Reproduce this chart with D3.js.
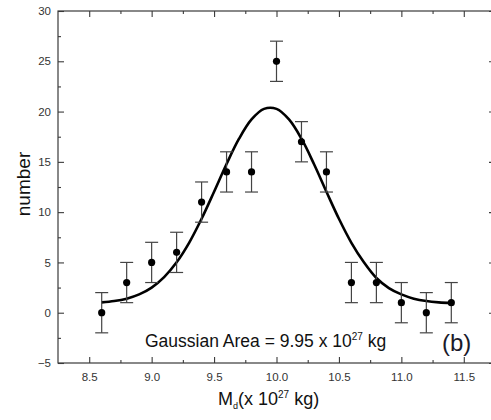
<!DOCTYPE html>
<html>
<head>
<meta charset="utf-8">
<script src="https://cdn.jsdelivr.net/npm/d3@7"></script>
<style>
html,body{margin:0;padding:0;background:#fff;}
svg{display:block;font-family:Arial,"Liberation Sans",sans-serif;}
</style>
</head>
<body>
<svg id="chart" width="491" height="420"></svg>
<script>
// Data points (histogram counts) with symmetric error bars
const massBins = [8.6, 8.8, 9.0, 9.2, 9.4, 9.6, 9.8, 10.0, 10.2, 10.4, 10.6, 10.8, 11.0, 11.2, 11.4];
const counts   = [0, 3, 5, 6, 11, 14, 14, 25, 17, 14, 3, 3, 1, 0, 1];
const errors   = [2, 2, 2, 2, 2, 2, 2, 2, 2, 2, 2, 2, 2, 2, 2];

// Gaussian fit curve
const fitX = [8.6, 8.7, 8.8, 8.9, 9.0, 9.1, 9.2, 9.3, 9.4, 9.5, 9.6, 9.7, 9.8, 9.9, 10.0, 10.1, 10.2, 10.3, 10.4, 10.5, 10.6, 10.7, 10.8, 10.9, 11.0, 11.1, 11.2, 11.3, 11.4];
const fitY = [1.03, 1.16, 1.40, 1.82, 2.50, 3.54, 5.01, 6.95, 9.34, 12.03, 14.79, 17.30, 19.22, 20.27, 20.27, 19.22, 17.30, 14.79, 12.03, 9.34, 6.95, 5.01, 3.45, 2.45, 1.82, 1.40, 1.16, 1.03, 0.96];

// Axes ticks
const xMajor = [8.5, 9.0, 9.5, 10.0, 10.5, 11.0, 11.5];
const xMinor = [8.75, 9.25, 9.75, 10.25, 10.75, 11.25];
const yMajor = [-5, 0, 5, 10, 15, 20, 25, 30];
const yMinor = [-2.5, 2.5, 7.5, 12.5, 17.5, 22.5, 27.5];

const fitLabel = "Gaussian Area = 9.95 x 10";
const panelLabel = "(b)";

const svg = d3.select("#chart");
const L = 58, R = 495, T = 11, B = 363;
const x = d3.scaleLinear().domain([8.25, 11.75]).range([L, R]);
const y = d3.scaleLinear().domain([-5, 30]).range([B, T]);

const axisColor = "#3a3a3a";
const labelColor = "#333";

function styleAxis(g) {
  g.select(".domain").remove();
  g.selectAll(".tick line").attr("stroke", axisColor).attr("stroke-width", 1.1);
  g.selectAll(".tick text").attr("fill", labelColor).style("font-size", "11.5px").style("font-family", "Arial, 'Liberation Sans', sans-serif");
}

// bottom
svg.append("g").attr("transform", `translate(0,${B})`)
  .call(d3.axisBottom(x).tickValues(xMajor).tickFormat(d3.format(".1f")).tickSize(-6).tickPadding(10))
  .call(styleAxis);
svg.append("g").attr("transform", `translate(0,${B})`)
  .call(d3.axisBottom(x).tickValues(xMinor).tickFormat("").tickSize(-3))
  .call(styleAxis);
// top
svg.append("g").attr("transform", `translate(0,${T})`)
  .call(d3.axisTop(x).tickValues(xMajor).tickFormat("").tickSize(-6))
  .call(styleAxis);
svg.append("g").attr("transform", `translate(0,${T})`)
  .call(d3.axisTop(x).tickValues(xMinor).tickFormat("").tickSize(-3))
  .call(styleAxis);
// left
svg.append("g").attr("transform", `translate(${L},0)`)
  .call(d3.axisLeft(y).tickValues(yMajor).tickFormat(d3.format("d")).tickSize(-6).tickPadding(7))
  .call(styleAxis);
svg.append("g").attr("transform", `translate(${L},0)`)
  .call(d3.axisLeft(y).tickValues(yMinor).tickFormat("").tickSize(-3))
  .call(styleAxis);
// right
svg.append("g").attr("transform", `translate(${R},0)`)
  .call(d3.axisRight(y).tickValues(yMajor).tickFormat("").tickSize(-6))
  .call(styleAxis);
svg.append("g").attr("transform", `translate(${R},0)`)
  .call(d3.axisRight(y).tickValues(yMinor).tickFormat("").tickSize(-3))
  .call(styleAxis);

// frame
svg.append("rect").attr("x", L).attr("y", T).attr("width", R - L).attr("height", B - T)
  .attr("fill", "none").attr("stroke", axisColor).attr("stroke-width", 1.2);

// fit curve
const fitData = fitX.map((d, i) => [d, fitY[i]]);
svg.append("path").datum(fitData)
  .attr("d", d3.line().x(d => x(d[0])).y(d => y(d[1])).curve(d3.curveCatmullRom))
  .attr("fill", "none").attr("stroke", "#000").attr("stroke-width", 2.6);

// error bars
const pts = massBins.map((d, i) => ({x: d, y: counts[i], e: errors[i]}));
const eb = svg.append("g").attr("stroke", "#444").attr("stroke-width", 1.2).attr("fill", "none");
const cap = 6.5;
pts.forEach(p => {
  eb.append("line").attr("x1", x(p.x)).attr("x2", x(p.x)).attr("y1", y(p.y - p.e)).attr("y2", y(p.y + p.e));
  eb.append("line").attr("x1", x(p.x) - cap).attr("x2", x(p.x) + cap).attr("y1", y(p.y + p.e)).attr("y2", y(p.y + p.e));
  eb.append("line").attr("x1", x(p.x) - cap).attr("x2", x(p.x) + cap).attr("y1", y(p.y - p.e)).attr("y2", y(p.y - p.e));
});
svg.append("g").selectAll("circle").data(pts).join("circle")
  .attr("cx", d => x(d.x)).attr("cy", d => y(d.y)).attr("r", 3.6).attr("fill", "#000");

// annotation
const ann = svg.append("text").attr("x", 145).attr("y", 347).attr("fill", "#111").style("font-size", "17.5px");
ann.append("tspan").text(fitLabel);
ann.append("tspan").attr("dy", -7).style("font-size", "10px").text("27");
ann.append("tspan").attr("dy", 7).text(" kg");

svg.append("text").attr("x", 442).attr("y", 351).attr("fill", "#1a1a2a").style("font-size", "24px").text(panelLabel);

// axis titles
const xt = svg.append("text").attr("x", 218).attr("y", 405).attr("fill", "#111").style("font-size", "18px");
xt.append("tspan").text("M");
xt.append("tspan").attr("dy", 4).style("font-size", "9px").text("d");
xt.append("tspan").attr("dy", -4).text("(x 10");
xt.append("tspan").attr("dy", -7).style("font-size", "10px").text("27");
xt.append("tspan").attr("dy", 7).text(" kg)");

svg.append("text").attr("transform", "translate(30,184) rotate(-90)").attr("text-anchor", "middle")
  .attr("fill", "#111").style("font-size", "19px").text("number");
</script>
</body>
</html>
